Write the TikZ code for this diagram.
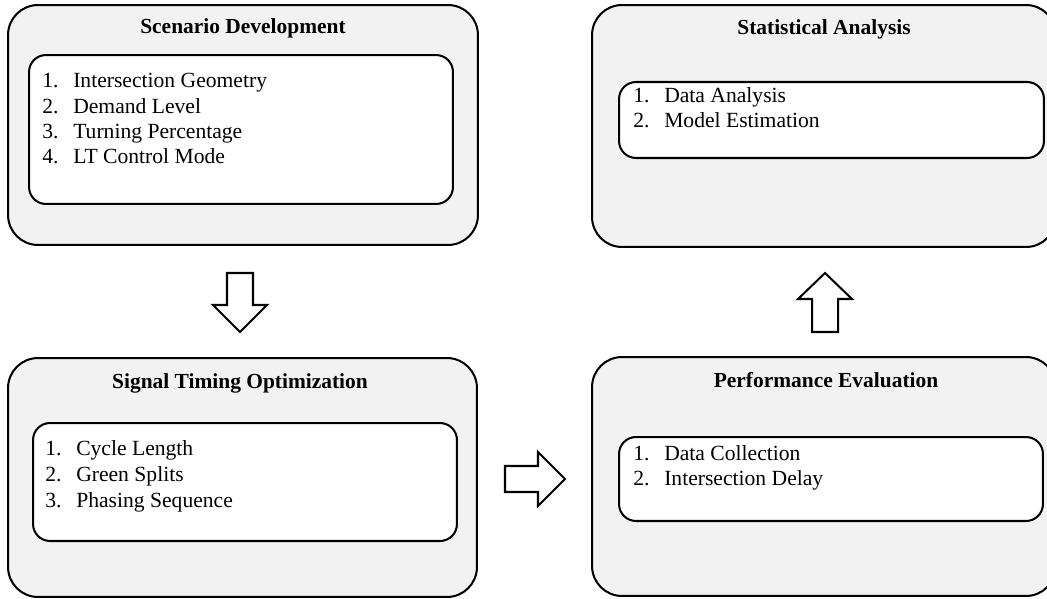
\documentclass[tikz,border=0pt]{standalone}
\usepackage{fontspec}
\setmainfont{Liberation Serif}
\definecolor{PanelGray}{RGB}{242,242,242}
\tikzset{
	stage/.style={draw=black,fill=PanelGray,rounded corners=0.6cm,line width=1.15pt,inner sep=0pt},
	list/.style={draw=black,fill=white,rounded corners=0.34cm,line width=1.15pt,inner sep=0pt},
	title/.style={font=\bfseries\fontsize{12.2}{14}\selectfont,anchor=base,inner sep=0pt},
	item/.style={font=\fontsize{12.3}{14}\selectfont,anchor=base west,inner sep=0pt},
	bigarrow/.style={draw=black,fill=white,line width=1.15pt},
}
\newcommand{\nr}[1]{\makebox[17.6pt][l]{#1.}}

\begin{document}
\begin{tikzpicture}[x=0.02cm,y=-0.02cm]
	\useasboundingbox (0,0) rectangle (1047,598);
	% the four stages
	\node[stage,minimum width=9.4cm,minimum height=4.8cm] (sd) at (243,125) {};
	\node[stage,minimum width=9.28cm,minimum height=4.84cm] (sa) at (824,126) {};
	\node[stage,minimum width=9.38cm,minimum height=4.78cm] (so) at (242.5,477.5) {};
	\node[stage,minimum width=9.28cm,minimum height=4.78cm] (pe) at (824,476.5) {};
	% inner lists
	\node[list,minimum width=8.48cm,minimum height=2.98cm] (sdl) at (241,129.5) {};
	\node[list,minimum width=8.5cm,minimum height=1.52cm] (sal) at (831.5,120) {};
	\node[list,minimum width=8.48cm,minimum height=2.36cm] (sol) at (245,482) {};
	\node[list,minimum width=8.48cm,minimum height=1.68cm] (pel) at (831,479) {};
	% titles
	\node[title] (sdt) at (243,34) {Scenario Development};
	\node[title] (sat) at (824,35) {Statistical Analysis};
	\node[title] (sot) at (240,388) {Signal Timing Optimization};
	\node[title] (pet) at (826,387) {Performance Evaluation};
	% list items
	\foreach \t [count=\i] in {Intersection Geometry,Demand Level,Turning Percentage,LT Control Mode}
		\node[item] (sd\i) at (42,{88+25*(\i-1)}) {\nr{\i}\t};
	\foreach \t [count=\i] in {Data Analysis,Model Estimation}
		\node[item] (sa\i) at (633,{102+25*(\i-1)}) {\nr{\i}\t};
	\foreach \t [count=\i] in {Cycle Length,Green Splits,Phasing Sequence}
		\node[item] (so\i) at (45,{455+26*(\i-1)}) {\nr{\i}\t};
	\foreach \t [count=\i] in {Data Collection,Intersection Delay}
		\node[item] (pe\i) at (633,{460+25*(\i-1)}) {\nr{\i}\t};
	% block arrows between stages
	\draw[bigarrow] (227,273) -- (253,273) -- (253,305) -- (267,305) -- (240,332)
		-- (213,305) -- (227,305) -- cycle;
	\draw[bigarrow] (505,466) -- (538,466) -- (538,452) -- (565,479) -- (538,506)
		-- (538,492) -- (505,492) -- cycle;
	\draw[bigarrow] (812,332) -- (838,332) -- (838,299) -- (852,299) -- (825,273)
		-- (798,299) -- (812,299) -- cycle;
\end{tikzpicture}
\end{document}
